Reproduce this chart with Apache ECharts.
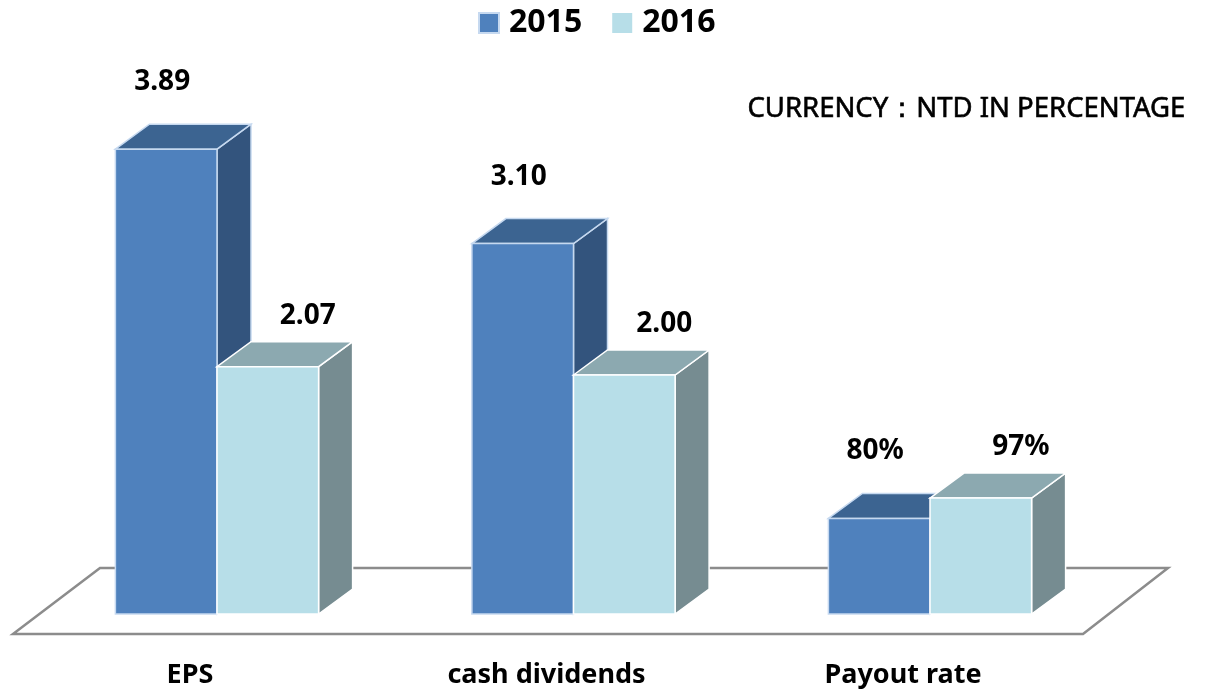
<!DOCTYPE html>
<html>
<head>
<meta charset="utf-8">
<script src="https://cdn.jsdelivr.net/npm/echarts@6/dist/echarts.min.js"></script>
<style>
  html, body { margin: 0; padding: 0; background: #fff; }
  #chart { width: 1224px; height: 691px; }
</style>
</head>
<body>
<div id="chart"></div>
<script>
const categories = ["EPS", "cash dividends", "Payout rate"];
const seriesNames = ["2015", "2016"];
// payout rate stored as a fraction, shown as percent
const values2015 = [3.89, 3.10, 0.80];
const values2016 = [2.07, 2.00, 0.97];

const FONT = "Noto Sans";
const depthX = 34, depthY = -25;
const barFrac = 0.285;

const palette = {
  "2015": { front: "#4F81BD", top: "#3C6491", side: "#33547D", edge: "#C6D9F0", lx: -4, ly: -67 },
  "2016": { front: "#B7DEE8", top: "#8CA9B0", side: "#768C91", edge: "#FFFFFF", lx: 40, ly: -51 }
};

function fmt(idx, v) {
  return idx === 2 ? Math.round(v * 100) + "%" : v.toFixed(2);
}

function makeRender(name, shift) {
  const c = palette[name];
  return function (params, api) {
    const idx = api.value(0), v = api.value(1);
    const top = api.coord([idx, v]);
    const base = api.coord([idx, 0]);
    const w = api.size([1, 0])[0] * barFrac;
    const x0 = top[0] + shift * w;
    const yT = top[1], yB = base[1];
    return {
      type: "group",
      children: [
        {
          type: "polygon",
          shape: { points: [[x0 + w, yT], [x0 + w + depthX, yT + depthY], [x0 + w + depthX, yB + depthY], [x0 + w, yB]] },
          style: { fill: c.side, stroke: c.edge, lineWidth: 1.5 }
        },
        {
          type: "polygon",
          shape: { points: [[x0, yT], [x0 + depthX, yT + depthY], [x0 + w + depthX, yT + depthY], [x0 + w, yT]] },
          style: { fill: c.top, stroke: c.edge, lineWidth: 1.5 }
        },
        {
          type: "rect",
          shape: { x: x0, y: yT, width: w, height: yB - yT },
          style: { fill: c.front, stroke: c.edge, lineWidth: 1.5 }
        },
        {
          type: "text",
          x: x0 + w / 2 + c.lx,
          y: yT + c.ly,
          style: {
            text: fmt(idx, v),
            fill: "#000",
            font: "bold 28px '" + FONT + "'",
            align: "center",
            verticalAlign: "middle"
          }
        }
      ]
    };
  };
}

const chart = echarts.init(document.getElementById("chart"));
chart.setOption({
  backgroundColor: "#fff",
  animation: false,
  title: {
    text: "CURRENCY：NTD IN PERCENTAGE",
    right: 33,
    top: 90,
    textStyle: {
      fontFamily: FONT, fontSize: 27.5, fontWeight: "normal", color: "#000",
      textBorderColor: "#000", textBorderWidth: 0.6
    }
  },
  legend: {
    left: 473,
    top: 0,
    itemWidth: 20,
    itemHeight: 20,
    itemGap: 30,
    icon: "rect",
    data: seriesNames,
    textStyle: { fontFamily: FONT, fontSize: 32, fontWeight: "bold", color: "#000", lineHeight: 36, padding: [0, 0, 0, 5] }
  },
  grid: { left: 38.75, right: 115.75, top: 136, bottom: 77 },
  xAxis: {
    type: "category",
    data: categories,
    axisLine: { show: false },
    axisTick: { show: false },
    axisLabel: {
      fontFamily: FONT, fontSize: 27, fontWeight: "bold", color: "#000",
      lineHeight: 28, margin: 47, padding: [0, 54, 0, 0]
    }
  },
  yAxis: { type: "value", min: 0, max: 4, show: false, splitLine: { show: false } },
  graphic: [{
    type: "polygon",
    z: 0,
    shape: { points: [[100, 568], [1168, 568], [1083, 634], [13, 634]] },
    style: { fill: "#fff", stroke: "#8C8C8C", lineWidth: 2.5 }
  }],
  series: [
    {
      name: "2015", type: "custom", z: 2,
      itemStyle: { color: palette["2015"].front, borderColor: palette["2015"].edge, borderWidth: 1.5 },
      encode: { x: 0, y: 1 },
      data: values2015.map((v, i) => [i, v]),
      renderItem: makeRender("2015", -1)
    },
    {
      name: "2016", type: "custom", z: 3,
      itemStyle: { color: palette["2016"].front },
      encode: { x: 0, y: 1 },
      data: values2016.map((v, i) => [i, v]),
      renderItem: makeRender("2016", 0)
    }
  ]
});
</script>
</body>
</html>
